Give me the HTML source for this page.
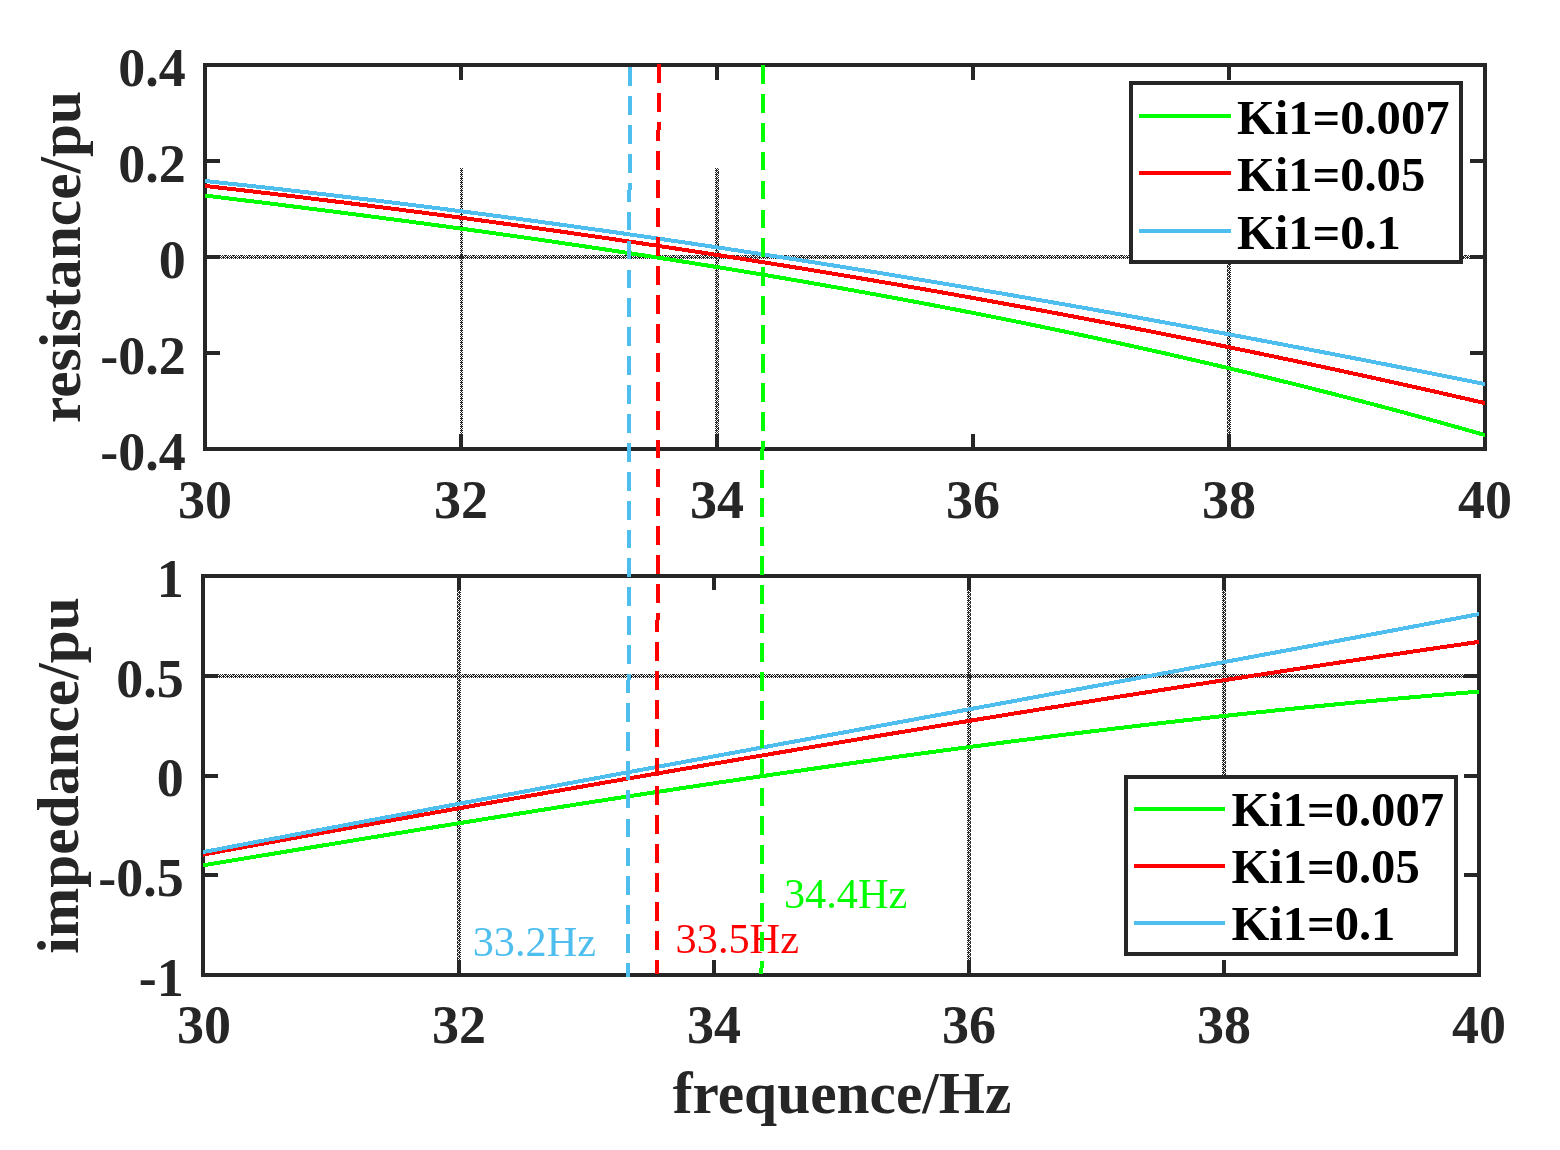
<!DOCTYPE html>
<html><head><meta charset="utf-8"><title>plot</title>
<style>html,body{margin:0;padding:0;background:#fff;width:1560px;height:1150px;overflow:hidden}svg{display:block}</style>
</head><body>
<svg width="1560" height="1150" viewBox="0 0 1560 1150">
<defs><pattern id="hg" x="0" y="0" width="8" height="4" patternUnits="userSpaceOnUse" fill="#262626"><rect x="0" y="0" width="1" height="1"/><rect x="1" y="0" width="1" height="1"/><rect x="2" y="0" width="1" height="1"/><rect x="4" y="0" width="1" height="1"/><rect x="6" y="0" width="1" height="1"/><rect x="1" y="1" width="1" height="1"/><rect x="3" y="1" width="1" height="1"/><rect x="5" y="1" width="1" height="1"/><rect x="7" y="1" width="1" height="1"/><rect x="0" y="2" width="1" height="1"/><rect x="2" y="2" width="1" height="1"/><rect x="3" y="2" width="1" height="1"/><rect x="4" y="2" width="1" height="1"/><rect x="6" y="2" width="1" height="1"/><rect x="7" y="2" width="1" height="1"/><rect x="1" y="3" width="1" height="1"/><rect x="3" y="3" width="1" height="1"/><rect x="5" y="3" width="1" height="1"/><rect x="7" y="3" width="1" height="1"/></pattern><pattern id="vc" x="0" y="0" width="3" height="4" patternUnits="userSpaceOnUse" fill="#262626"><rect x="0" y="0" width="3" height="1"/><rect x="1" y="1" width="1" height="1"/><rect x="0" y="2" width="1" height="1"/><rect x="2" y="2" width="1" height="1"/><rect x="1" y="3" width="1" height="1"/></pattern><pattern id="ve" x="0" y="0" width="1" height="8" patternUnits="userSpaceOnUse" fill="#262626"><rect x="0" y="1" width="1" height="1"/><rect x="0" y="3" width="1" height="1"/><rect x="0" y="4" width="1" height="1"/><rect x="0" y="5" width="1" height="1"/><rect x="0" y="7" width="1" height="1"/></pattern><pattern id="ve2" x="0" y="0" width="1" height="4" patternUnits="userSpaceOnUse" fill="#262626"><rect x="0" y="1" width="1" height="3"/></pattern></defs>
<rect x="0" y="0" width="1560" height="1150" fill="#fff"/>
<g fill="#262626" shape-rendering="crispEdges">
<g transform="translate(460 302)"><rect x="0" y="-134" width="3" height="281" fill="url(#vc)"/></g>
<g transform="translate(715 302)"><rect x="0" y="-134" width="3" height="281" fill="url(#vc)"/></g>
<g transform="translate(718 304)"><rect x="0" y="-136" width="1" height="281" fill="url(#ve)"/></g>
<g transform="translate(1228 308)"><rect x="0" y="-44" width="3" height="185" fill="url(#vc)"/></g>
<g transform="translate(1227 308)"><rect x="0" y="-44" width="1" height="185" fill="url(#ve2)"/></g>
<g transform="translate(0 255)"><rect x="207" y="0" width="1276" height="4" fill="url(#hg)"/></g>
<g transform="translate(458 608)"><rect x="0" y="-30" width="3" height="395" fill="url(#vc)"/></g>
<g transform="translate(457 608)"><rect x="0" y="-30" width="1" height="395" fill="url(#ve2)"/></g>
<g transform="translate(967 608)"><rect x="0" y="-30" width="3" height="395" fill="url(#vc)"/></g>
<g transform="translate(970 608)"><rect x="0" y="-30" width="1" height="395" fill="url(#ve2)"/></g>
<g transform="translate(1222 608)"><rect x="0" y="-30" width="3" height="197" fill="url(#vc)"/></g>
<g transform="translate(1225 608)"><rect x="0" y="-30" width="1" height="197" fill="url(#ve2)"/></g>
<g transform="translate(0 674)"><rect x="205" y="0" width="1272" height="4" fill="url(#hg)"/></g>
</g>
<path d="M461 449V434M461 65V80M717 449V434M717 65V80M973 449V434M973 65V80M1229 449V434M1229 65V80M205 161H220M1485 161H1470M205 257H220M1485 257H1470M205 353H220M1485 353H1470" stroke="#262626" stroke-width="4" fill="none" shape-rendering="crispEdges"/>
<rect x="205" y="65" width="1280" height="384" fill="none" stroke="#262626" stroke-width="4" shape-rendering="crispEdges"/>
<path d="M459 975V960M459 576V590M714 975V960M714 576V590M969 975V960M969 576V590M1224 975V960M1224 576V590M203 676H218M1479 676H1464M203 776H218M1479 776H1464M203 875H218M1479 875H1464" stroke="#262626" stroke-width="4" fill="none" shape-rendering="crispEdges"/>
<rect x="203" y="576" width="1276" height="399" fill="none" stroke="#262626" stroke-width="4" shape-rendering="crispEdges"/>
<path d="M205.0 195.55 L209.0 196.04 L213.0 196.52 L217.0 197.01 L221.0 197.50 L225.0 197.99 L229.0 198.48 L233.0 198.97 L237.0 199.46 L241.0 199.95 L245.0 200.44 L249.0 200.94 L253.0 201.43 L257.0 201.93 L261.0 202.43 L265.0 202.92 L269.0 203.42 L273.0 203.92 L277.0 204.42 L281.0 204.92 L285.0 205.43 L289.0 205.93 L293.0 206.43 L297.0 206.94 L301.0 207.45 L305.0 207.95 L309.0 208.46 L313.0 208.97 L317.0 209.48 L321.0 209.99 L325.0 210.51 L329.0 211.02 L333.0 211.54 L337.0 212.05 L341.0 212.57 L345.0 213.09 L349.0 213.60 L353.0 214.12 L357.0 214.65 L361.0 215.17 L365.0 215.69 L369.0 216.22 L373.0 216.74 L377.0 217.27 L381.0 217.80 L385.0 218.33 L389.0 218.86 L393.0 219.39 L397.0 219.92 L401.0 220.46 L405.0 220.99 L409.0 221.53 L413.0 222.06 L417.0 222.60 L421.0 223.14 L425.0 223.68 L429.0 224.23 L433.0 224.77 L437.0 225.32 L441.0 225.86 L445.0 226.41 L449.0 226.96 L453.0 227.51 L457.0 228.06 L461.0 228.61 L465.0 229.17 L469.0 229.72 L473.0 230.28 L477.0 230.84 L481.0 231.40 L485.0 231.96 L489.0 232.52 L493.0 233.08 L497.0 233.65 L501.0 234.21 L505.0 234.78 L509.0 235.35 L513.0 235.92 L517.0 236.49 L521.0 237.07 L525.0 237.64 L529.0 238.22 L533.0 238.79 L537.0 239.37 L541.0 239.95 L545.0 240.54 L549.0 241.12 L553.0 241.70 L557.0 242.29 L561.0 242.88 L565.0 243.47 L569.0 244.06 L573.0 244.65 L577.0 245.25 L581.0 245.84 L585.0 246.44 L589.0 247.04 L593.0 247.64 L597.0 248.24 L601.0 248.84 L605.0 249.45 L609.0 250.05 L613.0 250.66 L617.0 251.27 L621.0 251.88 L625.0 252.50 L629.0 253.11 L633.0 253.73 L637.0 254.35 L641.0 254.97 L645.0 255.59 L649.0 256.21 L653.0 256.84 L657.0 257.46 L661.0 258.09 L665.0 258.72 L669.0 259.35 L673.0 259.98 L677.0 260.62 L681.0 261.26 L685.0 261.89 L689.0 262.53 L693.0 263.18 L697.0 263.82 L701.0 264.46 L705.0 265.11 L709.0 265.76 L713.0 266.41 L717.0 267.06 L721.0 267.72 L725.0 268.38 L729.0 269.03 L733.0 269.69 L737.0 270.35 L741.0 271.02 L745.0 271.68 L749.0 272.35 L753.0 273.02 L757.0 273.69 L761.0 274.36 L765.0 275.04 L769.0 275.72 L773.0 276.39 L777.0 277.08 L781.0 277.76 L785.0 278.44 L789.0 279.13 L793.0 279.82 L797.0 280.51 L801.0 281.20 L805.0 281.89 L809.0 282.59 L813.0 283.29 L817.0 283.99 L821.0 284.69 L825.0 285.40 L829.0 286.10 L833.0 286.81 L837.0 287.52 L841.0 288.23 L845.0 288.95 L849.0 289.66 L853.0 290.38 L857.0 291.10 L861.0 291.83 L865.0 292.55 L869.0 293.28 L873.0 294.01 L877.0 294.74 L881.0 295.47 L885.0 296.21 L889.0 296.94 L893.0 297.68 L897.0 298.42 L901.0 299.17 L905.0 299.91 L909.0 300.66 L913.0 301.41 L917.0 302.17 L921.0 302.92 L925.0 303.68 L929.0 304.44 L933.0 305.20 L937.0 305.96 L941.0 306.73 L945.0 307.50 L949.0 308.27 L953.0 309.04 L957.0 309.82 L961.0 310.59 L965.0 311.37 L969.0 312.15 L973.0 312.94 L977.0 313.72 L981.0 314.51 L985.0 315.30 L989.0 316.10 L993.0 316.89 L997.0 317.69 L1001.0 318.49 L1005.0 319.30 L1009.0 320.10 L1013.0 320.91 L1017.0 321.72 L1021.0 322.53 L1025.0 323.35 L1029.0 324.16 L1033.0 324.98 L1037.0 325.80 L1041.0 326.63 L1045.0 327.46 L1049.0 328.28 L1053.0 329.12 L1057.0 329.95 L1061.0 330.79 L1065.0 331.63 L1069.0 332.47 L1073.0 333.31 L1077.0 334.16 L1081.0 335.01 L1085.0 335.86 L1089.0 336.71 L1093.0 337.57 L1097.0 338.43 L1101.0 339.29 L1105.0 340.16 L1109.0 341.02 L1113.0 341.89 L1117.0 342.76 L1121.0 343.64 L1125.0 344.52 L1129.0 345.40 L1133.0 346.28 L1137.0 347.16 L1141.0 348.05 L1145.0 348.94 L1149.0 349.84 L1153.0 350.73 L1157.0 351.63 L1161.0 352.53 L1165.0 353.43 L1169.0 354.34 L1173.0 355.25 L1177.0 356.16 L1181.0 357.08 L1185.0 357.99 L1189.0 358.91 L1193.0 359.83 L1197.0 360.76 L1201.0 361.69 L1205.0 362.62 L1209.0 363.55 L1213.0 364.49 L1217.0 365.43 L1221.0 366.37 L1225.0 367.31 L1229.0 368.26 L1233.0 369.21 L1237.0 370.17 L1241.0 371.12 L1245.0 372.08 L1249.0 373.04 L1253.0 374.01 L1257.0 374.97 L1261.0 375.94 L1265.0 376.92 L1269.0 377.89 L1273.0 378.87 L1277.0 379.85 L1281.0 380.84 L1285.0 381.82 L1289.0 382.81 L1293.0 383.81 L1297.0 384.80 L1301.0 385.80 L1305.0 386.80 L1309.0 387.81 L1313.0 388.82 L1317.0 389.83 L1321.0 390.84 L1325.0 391.86 L1329.0 392.88 L1333.0 393.90 L1337.0 394.93 L1341.0 395.96 L1345.0 396.99 L1349.0 398.02 L1353.0 399.06 L1357.0 400.10 L1361.0 401.15 L1365.0 402.19 L1369.0 403.24 L1373.0 404.30 L1377.0 405.35 L1381.0 406.41 L1385.0 407.47 L1389.0 408.54 L1393.0 409.61 L1397.0 410.68 L1401.0 411.76 L1405.0 412.83 L1409.0 413.91 L1413.0 415.00 L1417.0 416.09 L1421.0 417.18 L1425.0 418.27 L1429.0 419.37 L1433.0 420.47 L1437.0 421.57 L1441.0 422.68 L1445.0 423.79 L1449.0 424.90 L1453.0 426.02 L1457.0 427.14 L1461.0 428.26 L1465.0 429.39 L1469.0 430.51 L1473.0 431.65 L1477.0 432.78 L1481.0 433.92 L1485.0 435.06" fill="none" stroke="#00FF00" stroke-width="4" stroke-linejoin="round" shape-rendering="crispEdges"/>
<path d="M205.0 185.96 L209.0 186.42 L213.0 186.88 L217.0 187.33 L221.0 187.79 L225.0 188.26 L229.0 188.72 L233.0 189.18 L237.0 189.65 L241.0 190.11 L245.0 190.58 L249.0 191.05 L253.0 191.52 L257.0 191.99 L261.0 192.47 L265.0 192.94 L269.0 193.41 L273.0 193.89 L277.0 194.37 L281.0 194.85 L285.0 195.33 L289.0 195.81 L293.0 196.29 L297.0 196.78 L301.0 197.26 L305.0 197.75 L309.0 198.24 L313.0 198.72 L317.0 199.22 L321.0 199.71 L325.0 200.20 L329.0 200.69 L333.0 201.19 L337.0 201.69 L341.0 202.18 L345.0 202.68 L349.0 203.18 L353.0 203.69 L357.0 204.19 L361.0 204.69 L365.0 205.20 L369.0 205.71 L373.0 206.21 L377.0 206.72 L381.0 207.24 L385.0 207.75 L389.0 208.26 L393.0 208.78 L397.0 209.29 L401.0 209.81 L405.0 210.33 L409.0 210.85 L413.0 211.37 L417.0 211.89 L421.0 212.42 L425.0 212.94 L429.0 213.47 L433.0 214.00 L437.0 214.52 L441.0 215.06 L445.0 215.59 L449.0 216.12 L453.0 216.65 L457.0 217.19 L461.0 217.73 L465.0 218.27 L469.0 218.81 L473.0 219.35 L477.0 219.89 L481.0 220.43 L485.0 220.98 L489.0 221.52 L493.0 222.07 L497.0 222.62 L501.0 223.17 L505.0 223.72 L509.0 224.28 L513.0 224.83 L517.0 225.39 L521.0 225.94 L525.0 226.50 L529.0 227.06 L533.0 227.62 L537.0 228.19 L541.0 228.75 L545.0 229.32 L549.0 229.88 L553.0 230.45 L557.0 231.02 L561.0 231.59 L565.0 232.16 L569.0 232.74 L573.0 233.31 L577.0 233.89 L581.0 234.47 L585.0 235.04 L589.0 235.62 L593.0 236.21 L597.0 236.79 L601.0 237.37 L605.0 237.96 L609.0 238.55 L613.0 239.14 L617.0 239.73 L621.0 240.32 L625.0 240.91 L629.0 241.50 L633.0 242.10 L637.0 242.70 L641.0 243.29 L645.0 243.89 L649.0 244.50 L653.0 245.10 L657.0 245.70 L661.0 246.31 L665.0 246.91 L669.0 247.52 L673.0 248.13 L677.0 248.74 L681.0 249.36 L685.0 249.97 L689.0 250.58 L693.0 251.20 L697.0 251.82 L701.0 252.44 L705.0 253.06 L709.0 253.68 L713.0 254.30 L717.0 254.93 L721.0 255.56 L725.0 256.18 L729.0 256.81 L733.0 257.44 L737.0 258.08 L741.0 258.71 L745.0 259.35 L749.0 259.98 L753.0 260.62 L757.0 261.26 L761.0 261.90 L765.0 262.54 L769.0 263.19 L773.0 263.83 L777.0 264.48 L781.0 265.13 L785.0 265.78 L789.0 266.43 L793.0 267.08 L797.0 267.73 L801.0 268.39 L805.0 269.05 L809.0 269.70 L813.0 270.36 L817.0 271.02 L821.0 271.69 L825.0 272.35 L829.0 273.02 L833.0 273.68 L837.0 274.35 L841.0 275.02 L845.0 275.69 L849.0 276.37 L853.0 277.04 L857.0 277.72 L861.0 278.39 L865.0 279.07 L869.0 279.75 L873.0 280.43 L877.0 281.12 L881.0 281.80 L885.0 282.49 L889.0 283.18 L893.0 283.87 L897.0 284.56 L901.0 285.25 L905.0 285.94 L909.0 286.64 L913.0 287.33 L917.0 288.03 L921.0 288.73 L925.0 289.43 L929.0 290.14 L933.0 290.84 L937.0 291.55 L941.0 292.25 L945.0 292.96 L949.0 293.67 L953.0 294.38 L957.0 295.10 L961.0 295.81 L965.0 296.53 L969.0 297.25 L973.0 297.96 L977.0 298.69 L981.0 299.41 L985.0 300.13 L989.0 300.86 L993.0 301.58 L997.0 302.31 L1001.0 303.04 L1005.0 303.77 L1009.0 304.51 L1013.0 305.24 L1017.0 305.98 L1021.0 306.71 L1025.0 307.45 L1029.0 308.19 L1033.0 308.94 L1037.0 309.68 L1041.0 310.43 L1045.0 311.17 L1049.0 311.92 L1053.0 312.67 L1057.0 313.42 L1061.0 314.18 L1065.0 314.93 L1069.0 315.69 L1073.0 316.44 L1077.0 317.20 L1081.0 317.96 L1085.0 318.73 L1089.0 319.49 L1093.0 320.26 L1097.0 321.02 L1101.0 321.79 L1105.0 322.56 L1109.0 323.33 L1113.0 324.11 L1117.0 324.88 L1121.0 325.66 L1125.0 326.44 L1129.0 327.22 L1133.0 328.00 L1137.0 328.78 L1141.0 329.57 L1145.0 330.35 L1149.0 331.14 L1153.0 331.93 L1157.0 332.72 L1161.0 333.51 L1165.0 334.31 L1169.0 335.10 L1173.0 335.90 L1177.0 336.70 L1181.0 337.50 L1185.0 338.30 L1189.0 339.10 L1193.0 339.91 L1197.0 340.72 L1201.0 341.52 L1205.0 342.33 L1209.0 343.15 L1213.0 343.96 L1217.0 344.77 L1221.0 345.59 L1225.0 346.41 L1229.0 347.23 L1233.0 348.05 L1237.0 348.87 L1241.0 349.70 L1245.0 350.52 L1249.0 351.35 L1253.0 352.18 L1257.0 353.01 L1261.0 353.84 L1265.0 354.68 L1269.0 355.51 L1273.0 356.35 L1277.0 357.19 L1281.0 358.03 L1285.0 358.87 L1289.0 359.72 L1293.0 360.56 L1297.0 361.41 L1301.0 362.26 L1305.0 363.11 L1309.0 363.96 L1313.0 364.82 L1317.0 365.67 L1321.0 366.53 L1325.0 367.39 L1329.0 368.25 L1333.0 369.11 L1337.0 369.97 L1341.0 370.84 L1345.0 371.71 L1349.0 372.58 L1353.0 373.45 L1357.0 374.32 L1361.0 375.19 L1365.0 376.07 L1369.0 376.94 L1373.0 377.82 L1377.0 378.70 L1381.0 379.59 L1385.0 380.47 L1389.0 381.36 L1393.0 382.24 L1397.0 383.13 L1401.0 384.02 L1405.0 384.91 L1409.0 385.81 L1413.0 386.70 L1417.0 387.60 L1421.0 388.50 L1425.0 389.40 L1429.0 390.30 L1433.0 391.21 L1437.0 392.11 L1441.0 393.02 L1445.0 393.93 L1449.0 394.84 L1453.0 395.75 L1457.0 396.67 L1461.0 397.58 L1465.0 398.50 L1469.0 399.42 L1473.0 400.34 L1477.0 401.26 L1481.0 402.19 L1485.0 403.11" fill="none" stroke="#FF0000" stroke-width="4" stroke-linejoin="round" shape-rendering="crispEdges"/>
<path d="M205.0 181.00 L209.0 181.43 L213.0 181.85 L217.0 182.28 L221.0 182.71 L225.0 183.14 L229.0 183.58 L233.0 184.01 L237.0 184.45 L241.0 184.88 L245.0 185.32 L249.0 185.76 L253.0 186.21 L257.0 186.65 L261.0 187.09 L265.0 187.54 L269.0 187.99 L273.0 188.44 L277.0 188.89 L281.0 189.34 L285.0 189.80 L289.0 190.25 L293.0 190.71 L297.0 191.17 L301.0 191.63 L305.0 192.09 L309.0 192.56 L313.0 193.02 L317.0 193.49 L321.0 193.96 L325.0 194.43 L329.0 194.90 L333.0 195.37 L337.0 195.84 L341.0 196.32 L345.0 196.80 L349.0 197.27 L353.0 197.75 L357.0 198.24 L361.0 198.72 L365.0 199.20 L369.0 199.69 L373.0 200.18 L377.0 200.66 L381.0 201.16 L385.0 201.65 L389.0 202.14 L393.0 202.63 L397.0 203.13 L401.0 203.63 L405.0 204.13 L409.0 204.63 L413.0 205.13 L417.0 205.63 L421.0 206.14 L425.0 206.64 L429.0 207.15 L433.0 207.66 L437.0 208.17 L441.0 208.68 L445.0 209.20 L449.0 209.71 L453.0 210.23 L457.0 210.75 L461.0 211.27 L465.0 211.79 L469.0 212.31 L473.0 212.83 L477.0 213.36 L481.0 213.88 L485.0 214.41 L489.0 214.94 L493.0 215.47 L497.0 216.00 L501.0 216.53 L505.0 217.07 L509.0 217.61 L513.0 218.14 L517.0 218.68 L521.0 219.22 L525.0 219.76 L529.0 220.31 L533.0 220.85 L537.0 221.40 L541.0 221.94 L545.0 222.49 L549.0 223.04 L553.0 223.59 L557.0 224.14 L561.0 224.70 L565.0 225.25 L569.0 225.81 L573.0 226.37 L577.0 226.93 L581.0 227.49 L585.0 228.05 L589.0 228.61 L593.0 229.18 L597.0 229.74 L601.0 230.31 L605.0 230.88 L609.0 231.45 L613.0 232.02 L617.0 232.59 L621.0 233.17 L625.0 233.74 L629.0 234.32 L633.0 234.90 L637.0 235.48 L641.0 236.06 L645.0 236.64 L649.0 237.22 L653.0 237.81 L657.0 238.39 L661.0 238.98 L665.0 239.57 L669.0 240.16 L673.0 240.75 L677.0 241.34 L681.0 241.94 L685.0 242.53 L689.0 243.13 L693.0 243.72 L697.0 244.32 L701.0 244.92 L705.0 245.52 L709.0 246.13 L713.0 246.73 L717.0 247.33 L721.0 247.94 L725.0 248.55 L729.0 249.16 L733.0 249.77 L737.0 250.38 L741.0 250.99 L745.0 251.61 L749.0 252.22 L753.0 252.84 L757.0 253.45 L761.0 254.07 L765.0 254.69 L769.0 255.31 L773.0 255.94 L777.0 256.56 L781.0 257.19 L785.0 257.81 L789.0 258.44 L793.0 259.07 L797.0 259.70 L801.0 260.33 L805.0 260.96 L809.0 261.59 L813.0 262.23 L817.0 262.87 L821.0 263.50 L825.0 264.14 L829.0 264.78 L833.0 265.42 L837.0 266.06 L841.0 266.71 L845.0 267.35 L849.0 268.00 L853.0 268.64 L857.0 269.29 L861.0 269.94 L865.0 270.59 L869.0 271.24 L873.0 271.89 L877.0 272.55 L881.0 273.20 L885.0 273.86 L889.0 274.51 L893.0 275.17 L897.0 275.83 L901.0 276.49 L905.0 277.16 L909.0 277.82 L913.0 278.48 L917.0 279.15 L921.0 279.81 L925.0 280.48 L929.0 281.15 L933.0 281.82 L937.0 282.49 L941.0 283.16 L945.0 283.84 L949.0 284.51 L953.0 285.19 L957.0 285.86 L961.0 286.54 L965.0 287.22 L969.0 287.90 L973.0 288.58 L977.0 289.26 L981.0 289.95 L985.0 290.63 L989.0 291.32 L993.0 292.00 L997.0 292.69 L1001.0 293.38 L1005.0 294.07 L1009.0 294.76 L1013.0 295.45 L1017.0 296.15 L1021.0 296.84 L1025.0 297.53 L1029.0 298.23 L1033.0 298.93 L1037.0 299.63 L1041.0 300.33 L1045.0 301.03 L1049.0 301.73 L1053.0 302.43 L1057.0 303.14 L1061.0 303.84 L1065.0 304.55 L1069.0 305.25 L1073.0 305.96 L1077.0 306.67 L1081.0 307.38 L1085.0 308.09 L1089.0 308.81 L1093.0 309.52 L1097.0 310.23 L1101.0 310.95 L1105.0 311.66 L1109.0 312.38 L1113.0 313.10 L1117.0 313.82 L1121.0 314.54 L1125.0 315.26 L1129.0 315.98 L1133.0 316.71 L1137.0 317.43 L1141.0 318.16 L1145.0 318.89 L1149.0 319.61 L1153.0 320.34 L1157.0 321.07 L1161.0 321.80 L1165.0 322.53 L1169.0 323.27 L1173.0 324.00 L1177.0 324.73 L1181.0 325.47 L1185.0 326.21 L1189.0 326.94 L1193.0 327.68 L1197.0 328.42 L1201.0 329.16 L1205.0 329.90 L1209.0 330.65 L1213.0 331.39 L1217.0 332.13 L1221.0 332.88 L1225.0 333.63 L1229.0 334.37 L1233.0 335.12 L1237.0 335.87 L1241.0 336.62 L1245.0 337.37 L1249.0 338.12 L1253.0 338.88 L1257.0 339.63 L1261.0 340.39 L1265.0 341.14 L1269.0 341.90 L1273.0 342.66 L1277.0 343.42 L1281.0 344.17 L1285.0 344.94 L1289.0 345.70 L1293.0 346.46 L1297.0 347.22 L1301.0 347.99 L1305.0 348.75 L1309.0 349.52 L1313.0 350.28 L1317.0 351.05 L1321.0 351.82 L1325.0 352.59 L1329.0 353.36 L1333.0 354.13 L1337.0 354.90 L1341.0 355.68 L1345.0 356.45 L1349.0 357.23 L1353.0 358.00 L1357.0 358.78 L1361.0 359.56 L1365.0 360.33 L1369.0 361.11 L1373.0 361.89 L1377.0 362.68 L1381.0 363.46 L1385.0 364.24 L1389.0 365.02 L1393.0 365.81 L1397.0 366.59 L1401.0 367.38 L1405.0 368.17 L1409.0 368.96 L1413.0 369.74 L1417.0 370.53 L1421.0 371.32 L1425.0 372.12 L1429.0 372.91 L1433.0 373.70 L1437.0 374.49 L1441.0 375.29 L1445.0 376.08 L1449.0 376.88 L1453.0 377.68 L1457.0 378.48 L1461.0 379.27 L1465.0 380.07 L1469.0 380.87 L1473.0 381.68 L1477.0 382.48 L1481.0 383.28 L1485.0 384.08" fill="none" stroke="#4DBEEE" stroke-width="4" stroke-linejoin="round" shape-rendering="crispEdges"/>
<path d="M203.0 865.40 L207.0 864.73 L211.0 864.07 L215.0 863.40 L219.0 862.73 L223.0 862.06 L227.0 861.40 L231.0 860.73 L235.0 860.06 L239.0 859.40 L243.0 858.73 L247.0 858.06 L251.0 857.40 L255.0 856.73 L259.0 856.07 L263.0 855.40 L267.0 854.74 L271.0 854.07 L275.0 853.41 L279.0 852.74 L283.0 852.08 L287.0 851.41 L291.0 850.75 L295.0 850.09 L299.0 849.42 L303.0 848.76 L307.0 848.10 L311.0 847.44 L315.0 846.77 L319.0 846.11 L323.0 845.45 L327.0 844.79 L331.0 844.13 L335.0 843.47 L339.0 842.81 L343.0 842.15 L347.0 841.49 L351.0 840.83 L355.0 840.17 L359.0 839.52 L363.0 838.86 L367.0 838.20 L371.0 837.55 L375.0 836.89 L379.0 836.23 L383.0 835.58 L387.0 834.92 L391.0 834.27 L395.0 833.61 L399.0 832.96 L403.0 832.31 L407.0 831.65 L411.0 831.00 L415.0 830.35 L419.0 829.70 L423.0 829.04 L427.0 828.39 L431.0 827.74 L435.0 827.09 L439.0 826.44 L443.0 825.80 L447.0 825.15 L451.0 824.50 L455.0 823.85 L459.0 823.21 L463.0 822.56 L467.0 821.91 L471.0 821.27 L475.0 820.62 L479.0 819.98 L483.0 819.34 L487.0 818.69 L491.0 818.05 L495.0 817.41 L499.0 816.77 L503.0 816.13 L507.0 815.49 L511.0 814.85 L515.0 814.21 L519.0 813.57 L523.0 812.93 L527.0 812.29 L531.0 811.66 L535.0 811.02 L539.0 810.39 L543.0 809.75 L547.0 809.12 L551.0 808.49 L555.0 807.85 L559.0 807.22 L563.0 806.59 L567.0 805.96 L571.0 805.33 L575.0 804.70 L579.0 804.07 L583.0 803.44 L587.0 802.82 L591.0 802.19 L595.0 801.57 L599.0 800.94 L603.0 800.32 L607.0 799.69 L611.0 799.07 L615.0 798.45 L619.0 797.83 L623.0 797.21 L627.0 796.59 L631.0 795.97 L635.0 795.35 L639.0 794.73 L643.0 794.12 L647.0 793.50 L651.0 792.88 L655.0 792.27 L659.0 791.66 L663.0 791.04 L667.0 790.43 L671.0 789.82 L675.0 789.21 L679.0 788.60 L683.0 787.99 L687.0 787.39 L691.0 786.78 L695.0 786.17 L699.0 785.57 L703.0 784.97 L707.0 784.36 L711.0 783.76 L715.0 783.16 L719.0 782.56 L723.0 781.96 L727.0 781.36 L731.0 780.76 L735.0 780.17 L739.0 779.57 L743.0 778.97 L747.0 778.38 L751.0 777.79 L755.0 777.20 L759.0 776.60 L763.0 776.01 L767.0 775.43 L771.0 774.84 L775.0 774.25 L779.0 773.66 L783.0 773.08 L787.0 772.49 L791.0 771.91 L795.0 771.33 L799.0 770.75 L803.0 770.17 L807.0 769.59 L811.0 769.01 L815.0 768.43 L819.0 767.86 L823.0 767.28 L827.0 766.71 L831.0 766.13 L835.0 765.56 L839.0 764.99 L843.0 764.42 L847.0 763.85 L851.0 763.29 L855.0 762.72 L859.0 762.16 L863.0 761.59 L867.0 761.03 L871.0 760.47 L875.0 759.91 L879.0 759.35 L883.0 758.79 L887.0 758.23 L891.0 757.67 L895.0 757.12 L899.0 756.56 L903.0 756.01 L907.0 755.46 L911.0 754.91 L915.0 754.36 L919.0 753.81 L923.0 753.27 L927.0 752.72 L931.0 752.18 L935.0 751.63 L939.0 751.09 L943.0 750.55 L947.0 750.01 L951.0 749.47 L955.0 748.94 L959.0 748.40 L963.0 747.87 L967.0 747.33 L971.0 746.80 L975.0 746.27 L979.0 745.74 L983.0 745.21 L987.0 744.69 L991.0 744.16 L995.0 743.64 L999.0 743.11 L1003.0 742.59 L1007.0 742.07 L1011.0 741.55 L1015.0 741.03 L1019.0 740.52 L1023.0 740.00 L1027.0 739.49 L1031.0 738.98 L1035.0 738.47 L1039.0 737.96 L1043.0 737.45 L1047.0 736.94 L1051.0 736.44 L1055.0 735.93 L1059.0 735.43 L1063.0 734.93 L1067.0 734.43 L1071.0 733.93 L1075.0 733.44 L1079.0 732.94 L1083.0 732.45 L1087.0 731.95 L1091.0 731.46 L1095.0 730.97 L1099.0 730.48 L1103.0 730.00 L1107.0 729.51 L1111.0 729.03 L1115.0 728.55 L1119.0 728.07 L1123.0 727.59 L1127.0 727.11 L1131.0 726.63 L1135.0 726.16 L1139.0 725.68 L1143.0 725.21 L1147.0 724.74 L1151.0 724.27 L1155.0 723.81 L1159.0 723.34 L1163.0 722.88 L1167.0 722.41 L1171.0 721.95 L1175.0 721.49 L1179.0 721.04 L1183.0 720.58 L1187.0 720.13 L1191.0 719.67 L1195.0 719.22 L1199.0 718.77 L1203.0 718.32 L1207.0 717.88 L1211.0 717.43 L1215.0 716.99 L1219.0 716.55 L1223.0 716.11 L1227.0 715.67 L1231.0 715.23 L1235.0 714.80 L1239.0 714.36 L1243.0 713.93 L1247.0 713.50 L1251.0 713.07 L1255.0 712.64 L1259.0 712.22 L1263.0 711.80 L1267.0 711.37 L1271.0 710.95 L1275.0 710.54 L1279.0 710.12 L1283.0 709.70 L1287.0 709.29 L1291.0 708.88 L1295.0 708.47 L1299.0 708.06 L1303.0 707.66 L1307.0 707.25 L1311.0 706.85 L1315.0 706.45 L1319.0 706.05 L1323.0 705.65 L1327.0 705.26 L1331.0 704.86 L1335.0 704.47 L1339.0 704.08 L1343.0 703.69 L1347.0 703.31 L1351.0 702.92 L1355.0 702.54 L1359.0 702.16 L1363.0 701.78 L1367.0 701.40 L1371.0 701.03 L1375.0 700.65 L1379.0 700.28 L1383.0 699.91 L1387.0 699.55 L1391.0 699.18 L1395.0 698.82 L1399.0 698.45 L1403.0 698.09 L1407.0 697.73 L1411.0 697.38 L1415.0 697.02 L1419.0 696.67 L1423.0 696.32 L1427.0 695.97 L1431.0 695.62 L1435.0 695.28 L1439.0 694.94 L1443.0 694.60 L1447.0 694.26 L1451.0 693.92 L1455.0 693.58 L1459.0 693.25 L1463.0 692.92 L1467.0 692.59 L1471.0 692.26 L1475.0 691.94 L1479.0 691.62" fill="none" stroke="#00FF00" stroke-width="4" stroke-linejoin="round" shape-rendering="crispEdges"/>
<path d="M203.0 854.60 L207.0 853.87 L211.0 853.13 L215.0 852.40 L219.0 851.67 L223.0 850.93 L227.0 850.20 L231.0 849.47 L235.0 848.74 L239.0 848.00 L243.0 847.27 L247.0 846.54 L251.0 845.81 L255.0 845.08 L259.0 844.35 L263.0 843.62 L267.0 842.89 L271.0 842.16 L275.0 841.43 L279.0 840.70 L283.0 839.97 L287.0 839.25 L291.0 838.52 L295.0 837.79 L299.0 837.07 L303.0 836.34 L307.0 835.61 L311.0 834.89 L315.0 834.16 L319.0 833.44 L323.0 832.71 L327.0 831.99 L331.0 831.26 L335.0 830.54 L339.0 829.82 L343.0 829.09 L347.0 828.37 L351.0 827.65 L355.0 826.92 L359.0 826.20 L363.0 825.48 L367.0 824.76 L371.0 824.04 L375.0 823.32 L379.0 822.60 L383.0 821.88 L387.0 821.16 L391.0 820.44 L395.0 819.72 L399.0 819.01 L403.0 818.29 L407.0 817.57 L411.0 816.85 L415.0 816.14 L419.0 815.42 L423.0 814.71 L427.0 813.99 L431.0 813.27 L435.0 812.56 L439.0 811.85 L443.0 811.13 L447.0 810.42 L451.0 809.70 L455.0 808.99 L459.0 808.28 L463.0 807.57 L467.0 806.86 L471.0 806.14 L475.0 805.43 L479.0 804.72 L483.0 804.01 L487.0 803.30 L491.0 802.59 L495.0 801.88 L499.0 801.18 L503.0 800.47 L507.0 799.76 L511.0 799.05 L515.0 798.34 L519.0 797.64 L523.0 796.93 L527.0 796.23 L531.0 795.52 L535.0 794.81 L539.0 794.11 L543.0 793.41 L547.0 792.70 L551.0 792.00 L555.0 791.30 L559.0 790.59 L563.0 789.89 L567.0 789.19 L571.0 788.49 L575.0 787.79 L579.0 787.09 L583.0 786.39 L587.0 785.69 L591.0 784.99 L595.0 784.29 L599.0 783.59 L603.0 782.89 L607.0 782.19 L611.0 781.50 L615.0 780.80 L619.0 780.10 L623.0 779.41 L627.0 778.71 L631.0 778.01 L635.0 777.32 L639.0 776.63 L643.0 775.93 L647.0 775.24 L651.0 774.55 L655.0 773.85 L659.0 773.16 L663.0 772.47 L667.0 771.78 L671.0 771.09 L675.0 770.40 L679.0 769.71 L683.0 769.02 L687.0 768.33 L691.0 767.64 L695.0 766.95 L699.0 766.26 L703.0 765.57 L707.0 764.89 L711.0 764.20 L715.0 763.51 L719.0 762.83 L723.0 762.14 L727.0 761.46 L731.0 760.78 L735.0 760.09 L739.0 759.41 L743.0 758.72 L747.0 758.04 L751.0 757.36 L755.0 756.68 L759.0 756.00 L763.0 755.32 L767.0 754.64 L771.0 753.96 L775.0 753.28 L779.0 752.60 L783.0 751.92 L787.0 751.24 L791.0 750.57 L795.0 749.89 L799.0 749.21 L803.0 748.54 L807.0 747.86 L811.0 747.19 L815.0 746.51 L819.0 745.84 L823.0 745.16 L827.0 744.49 L831.0 743.82 L835.0 743.14 L839.0 742.47 L843.0 741.80 L847.0 741.13 L851.0 740.46 L855.0 739.79 L859.0 739.12 L863.0 738.45 L867.0 737.78 L871.0 737.12 L875.0 736.45 L879.0 735.78 L883.0 735.11 L887.0 734.45 L891.0 733.78 L895.0 733.12 L899.0 732.45 L903.0 731.79 L907.0 731.13 L911.0 730.46 L915.0 729.80 L919.0 729.14 L923.0 728.48 L927.0 727.82 L931.0 727.16 L935.0 726.50 L939.0 725.84 L943.0 725.18 L947.0 724.52 L951.0 723.86 L955.0 723.20 L959.0 722.55 L963.0 721.89 L967.0 721.23 L971.0 720.58 L975.0 719.92 L979.0 719.27 L983.0 718.61 L987.0 717.96 L991.0 717.31 L995.0 716.66 L999.0 716.00 L1003.0 715.35 L1007.0 714.70 L1011.0 714.05 L1015.0 713.40 L1019.0 712.75 L1023.0 712.10 L1027.0 711.46 L1031.0 710.81 L1035.0 710.16 L1039.0 709.51 L1043.0 708.87 L1047.0 708.22 L1051.0 707.58 L1055.0 706.93 L1059.0 706.29 L1063.0 705.64 L1067.0 705.00 L1071.0 704.36 L1075.0 703.72 L1079.0 703.08 L1083.0 702.44 L1087.0 701.80 L1091.0 701.16 L1095.0 700.52 L1099.0 699.88 L1103.0 699.24 L1107.0 698.60 L1111.0 697.97 L1115.0 697.33 L1119.0 696.69 L1123.0 696.06 L1127.0 695.42 L1131.0 694.79 L1135.0 694.16 L1139.0 693.52 L1143.0 692.89 L1147.0 692.26 L1151.0 691.63 L1155.0 691.00 L1159.0 690.36 L1163.0 689.74 L1167.0 689.11 L1171.0 688.48 L1175.0 687.85 L1179.0 687.22 L1183.0 686.59 L1187.0 685.97 L1191.0 685.34 L1195.0 684.72 L1199.0 684.09 L1203.0 683.47 L1207.0 682.84 L1211.0 682.22 L1215.0 681.60 L1219.0 680.98 L1223.0 680.36 L1227.0 679.74 L1231.0 679.12 L1235.0 678.50 L1239.0 677.88 L1243.0 677.26 L1247.0 676.64 L1251.0 676.02 L1255.0 675.41 L1259.0 674.79 L1263.0 674.18 L1267.0 673.56 L1271.0 672.95 L1275.0 672.33 L1279.0 671.72 L1283.0 671.11 L1287.0 670.49 L1291.0 669.88 L1295.0 669.27 L1299.0 668.66 L1303.0 668.05 L1307.0 667.44 L1311.0 666.84 L1315.0 666.23 L1319.0 665.62 L1323.0 665.01 L1327.0 664.41 L1331.0 663.80 L1335.0 663.20 L1339.0 662.59 L1343.0 661.99 L1347.0 661.39 L1351.0 660.79 L1355.0 660.18 L1359.0 659.58 L1363.0 658.98 L1367.0 658.38 L1371.0 657.78 L1375.0 657.18 L1379.0 656.59 L1383.0 655.99 L1387.0 655.39 L1391.0 654.80 L1395.0 654.20 L1399.0 653.61 L1403.0 653.01 L1407.0 652.42 L1411.0 651.82 L1415.0 651.23 L1419.0 650.64 L1423.0 650.05 L1427.0 649.46 L1431.0 648.87 L1435.0 648.28 L1439.0 647.69 L1443.0 647.10 L1447.0 646.51 L1451.0 645.93 L1455.0 645.34 L1459.0 644.76 L1463.0 644.17 L1467.0 643.59 L1471.0 643.00 L1475.0 642.42 L1479.0 641.84" fill="none" stroke="#FF0000" stroke-width="4" stroke-linejoin="round" shape-rendering="crispEdges"/>
<path d="M203.0 852.14 L207.0 851.37 L211.0 850.60 L215.0 849.84 L219.0 849.07 L223.0 848.31 L227.0 847.55 L231.0 846.78 L235.0 846.02 L239.0 845.26 L243.0 844.49 L247.0 843.73 L251.0 842.97 L255.0 842.21 L259.0 841.44 L263.0 840.68 L267.0 839.92 L271.0 839.16 L275.0 838.40 L279.0 837.64 L283.0 836.88 L287.0 836.12 L291.0 835.36 L295.0 834.60 L299.0 833.85 L303.0 833.09 L307.0 832.33 L311.0 831.57 L315.0 830.82 L319.0 830.06 L323.0 829.30 L327.0 828.55 L331.0 827.79 L335.0 827.03 L339.0 826.28 L343.0 825.52 L347.0 824.77 L351.0 824.01 L355.0 823.26 L359.0 822.50 L363.0 821.75 L367.0 821.00 L371.0 820.24 L375.0 819.49 L379.0 818.74 L383.0 817.98 L387.0 817.23 L391.0 816.48 L395.0 815.73 L399.0 814.97 L403.0 814.22 L407.0 813.47 L411.0 812.72 L415.0 811.97 L419.0 811.22 L423.0 810.47 L427.0 809.72 L431.0 808.97 L435.0 808.22 L439.0 807.47 L443.0 806.72 L447.0 805.97 L451.0 805.22 L455.0 804.47 L459.0 803.73 L463.0 802.98 L467.0 802.23 L471.0 801.48 L475.0 800.74 L479.0 799.99 L483.0 799.24 L487.0 798.49 L491.0 797.75 L495.0 797.00 L499.0 796.25 L503.0 795.51 L507.0 794.76 L511.0 794.02 L515.0 793.27 L519.0 792.53 L523.0 791.78 L527.0 791.04 L531.0 790.29 L535.0 789.55 L539.0 788.80 L543.0 788.06 L547.0 787.31 L551.0 786.57 L555.0 785.83 L559.0 785.08 L563.0 784.34 L567.0 783.59 L571.0 782.85 L575.0 782.11 L579.0 781.37 L583.0 780.62 L587.0 779.88 L591.0 779.14 L595.0 778.40 L599.0 777.65 L603.0 776.91 L607.0 776.17 L611.0 775.43 L615.0 774.69 L619.0 773.94 L623.0 773.20 L627.0 772.46 L631.0 771.72 L635.0 770.98 L639.0 770.24 L643.0 769.50 L647.0 768.76 L651.0 768.02 L655.0 767.28 L659.0 766.54 L663.0 765.80 L667.0 765.06 L671.0 764.32 L675.0 763.58 L679.0 762.84 L683.0 762.10 L687.0 761.36 L691.0 760.62 L695.0 759.88 L699.0 759.14 L703.0 758.40 L707.0 757.66 L711.0 756.92 L715.0 756.18 L719.0 755.44 L723.0 754.71 L727.0 753.97 L731.0 753.23 L735.0 752.49 L739.0 751.75 L743.0 751.01 L747.0 750.27 L751.0 749.54 L755.0 748.80 L759.0 748.06 L763.0 747.32 L767.0 746.58 L771.0 745.85 L775.0 745.11 L779.0 744.37 L783.0 743.63 L787.0 742.89 L791.0 742.16 L795.0 741.42 L799.0 740.68 L803.0 739.94 L807.0 739.21 L811.0 738.47 L815.0 737.73 L819.0 736.99 L823.0 736.26 L827.0 735.52 L831.0 734.78 L835.0 734.04 L839.0 733.31 L843.0 732.57 L847.0 731.83 L851.0 731.09 L855.0 730.36 L859.0 729.62 L863.0 728.88 L867.0 728.14 L871.0 727.41 L875.0 726.67 L879.0 725.93 L883.0 725.19 L887.0 724.46 L891.0 723.72 L895.0 722.98 L899.0 722.24 L903.0 721.51 L907.0 720.77 L911.0 720.03 L915.0 719.29 L919.0 718.56 L923.0 717.82 L927.0 717.08 L931.0 716.34 L935.0 715.61 L939.0 714.87 L943.0 714.13 L947.0 713.39 L951.0 712.66 L955.0 711.92 L959.0 711.18 L963.0 710.44 L967.0 709.70 L971.0 708.97 L975.0 708.23 L979.0 707.49 L983.0 706.75 L987.0 706.01 L991.0 705.28 L995.0 704.54 L999.0 703.80 L1003.0 703.06 L1007.0 702.32 L1011.0 701.58 L1015.0 700.84 L1019.0 700.11 L1023.0 699.37 L1027.0 698.63 L1031.0 697.89 L1035.0 697.15 L1039.0 696.41 L1043.0 695.67 L1047.0 694.93 L1051.0 694.19 L1055.0 693.45 L1059.0 692.71 L1063.0 691.97 L1067.0 691.23 L1071.0 690.49 L1075.0 689.75 L1079.0 689.01 L1083.0 688.27 L1087.0 687.53 L1091.0 686.79 L1095.0 686.05 L1099.0 685.31 L1103.0 684.57 L1107.0 683.83 L1111.0 683.09 L1115.0 682.35 L1119.0 681.61 L1123.0 680.86 L1127.0 680.12 L1131.0 679.38 L1135.0 678.64 L1139.0 677.90 L1143.0 677.15 L1147.0 676.41 L1151.0 675.67 L1155.0 674.93 L1159.0 674.18 L1163.0 673.44 L1167.0 672.70 L1171.0 671.96 L1175.0 671.21 L1179.0 670.47 L1183.0 669.72 L1187.0 668.98 L1191.0 668.24 L1195.0 667.49 L1199.0 666.75 L1203.0 666.00 L1207.0 665.26 L1211.0 664.51 L1215.0 663.77 L1219.0 663.02 L1223.0 662.28 L1227.0 661.53 L1231.0 660.79 L1235.0 660.04 L1239.0 659.30 L1243.0 658.55 L1247.0 657.80 L1251.0 657.06 L1255.0 656.31 L1259.0 655.56 L1263.0 654.81 L1267.0 654.07 L1271.0 653.32 L1275.0 652.57 L1279.0 651.82 L1283.0 651.07 L1287.0 650.33 L1291.0 649.58 L1295.0 648.83 L1299.0 648.08 L1303.0 647.33 L1307.0 646.58 L1311.0 645.83 L1315.0 645.08 L1319.0 644.33 L1323.0 643.58 L1327.0 642.83 L1331.0 642.08 L1335.0 641.33 L1339.0 640.57 L1343.0 639.82 L1347.0 639.07 L1351.0 638.32 L1355.0 637.57 L1359.0 636.81 L1363.0 636.06 L1367.0 635.31 L1371.0 634.55 L1375.0 633.80 L1379.0 633.05 L1383.0 632.29 L1387.0 631.54 L1391.0 630.78 L1395.0 630.03 L1399.0 629.27 L1403.0 628.52 L1407.0 627.76 L1411.0 627.00 L1415.0 626.25 L1419.0 625.49 L1423.0 624.73 L1427.0 623.98 L1431.0 623.22 L1435.0 622.46 L1439.0 621.70 L1443.0 620.94 L1447.0 620.18 L1451.0 619.43 L1455.0 618.67 L1459.0 617.91 L1463.0 617.15 L1467.0 616.39 L1471.0 615.63 L1475.0 614.86 L1479.0 614.10" fill="none" stroke="#4DBEEE" stroke-width="4" stroke-linejoin="round" shape-rendering="crispEdges"/>
<text x="205" y="518" text-anchor="middle" style="font-family:'Liberation Serif','Times New Roman',serif;font-weight:bold;font-size:54px" fill="#262626">30</text>
<text x="461" y="518" text-anchor="middle" style="font-family:'Liberation Serif','Times New Roman',serif;font-weight:bold;font-size:54px" fill="#262626">32</text>
<text x="717" y="518" text-anchor="middle" style="font-family:'Liberation Serif','Times New Roman',serif;font-weight:bold;font-size:54px" fill="#262626">34</text>
<text x="973" y="518" text-anchor="middle" style="font-family:'Liberation Serif','Times New Roman',serif;font-weight:bold;font-size:54px" fill="#262626">36</text>
<text x="1229" y="518" text-anchor="middle" style="font-family:'Liberation Serif','Times New Roman',serif;font-weight:bold;font-size:54px" fill="#262626">38</text>
<text x="1485" y="518" text-anchor="middle" style="font-family:'Liberation Serif','Times New Roman',serif;font-weight:bold;font-size:54px" fill="#262626">40</text>
<text x="204" y="1043" text-anchor="middle" style="font-family:'Liberation Serif','Times New Roman',serif;font-weight:bold;font-size:54px" fill="#262626">30</text>
<text x="459" y="1043" text-anchor="middle" style="font-family:'Liberation Serif','Times New Roman',serif;font-weight:bold;font-size:54px" fill="#262626">32</text>
<text x="714" y="1043" text-anchor="middle" style="font-family:'Liberation Serif','Times New Roman',serif;font-weight:bold;font-size:54px" fill="#262626">34</text>
<text x="969" y="1043" text-anchor="middle" style="font-family:'Liberation Serif','Times New Roman',serif;font-weight:bold;font-size:54px" fill="#262626">36</text>
<text x="1224" y="1043" text-anchor="middle" style="font-family:'Liberation Serif','Times New Roman',serif;font-weight:bold;font-size:54px" fill="#262626">38</text>
<text x="1479" y="1043" text-anchor="middle" style="font-family:'Liberation Serif','Times New Roman',serif;font-weight:bold;font-size:54px" fill="#262626">40</text>
<text x="185.8" y="85.7" text-anchor="end" style="font-family:'Liberation Serif','Times New Roman',serif;font-weight:bold;font-size:54px" fill="#262626">0.4</text>
<text x="185.8" y="181.7" text-anchor="end" style="font-family:'Liberation Serif','Times New Roman',serif;font-weight:bold;font-size:54px" fill="#262626">0.2</text>
<text x="185.8" y="277.7" text-anchor="end" style="font-family:'Liberation Serif','Times New Roman',serif;font-weight:bold;font-size:54px" fill="#262626">0</text>
<text x="185.8" y="373.7" text-anchor="end" style="font-family:'Liberation Serif','Times New Roman',serif;font-weight:bold;font-size:54px" fill="#262626">-0.2</text>
<text x="185.8" y="469.7" text-anchor="end" style="font-family:'Liberation Serif','Times New Roman',serif;font-weight:bold;font-size:54px" fill="#262626">-0.4</text>
<text x="183.8" y="596.7" text-anchor="end" style="font-family:'Liberation Serif','Times New Roman',serif;font-weight:bold;font-size:54px" fill="#262626">1</text>
<text x="183.8" y="696.5" text-anchor="end" style="font-family:'Liberation Serif','Times New Roman',serif;font-weight:bold;font-size:54px" fill="#262626">0.5</text>
<text x="183.8" y="796.2" text-anchor="end" style="font-family:'Liberation Serif','Times New Roman',serif;font-weight:bold;font-size:54px" fill="#262626">0</text>
<text x="183.8" y="896.0" text-anchor="end" style="font-family:'Liberation Serif','Times New Roman',serif;font-weight:bold;font-size:54px" fill="#262626">-0.5</text>
<text x="183.8" y="995.7" text-anchor="end" style="font-family:'Liberation Serif','Times New Roman',serif;font-weight:bold;font-size:54px" fill="#262626">-1</text>
<text transform="translate(80 257) rotate(-90)" text-anchor="middle" style="font-family:'Liberation Serif','Times New Roman',serif;font-weight:bold;font-size:59.4px" fill="#262626">resistance/pu</text>
<text transform="translate(78 775.5) rotate(-90)" text-anchor="middle" style="font-family:'Liberation Serif','Times New Roman',serif;font-weight:bold;font-size:59.4px" fill="#262626">impedance/pu</text>
<text x="842" y="1112.8" text-anchor="middle" style="font-family:'Liberation Serif','Times New Roman',serif;font-weight:bold;font-size:59.4px" fill="#262626">frequence/Hz</text>
<rect x="1131" y="83" width="330" height="179" fill="#fff" stroke="#262626" stroke-width="4" shape-rendering="crispEdges"/>
<path d="M1139 115.5H1231" stroke="#00FF00" stroke-width="4" shape-rendering="crispEdges"/>
<path d="M1139 172.7H1231" stroke="#FF0000" stroke-width="4" shape-rendering="crispEdges"/>
<path d="M1139 230.8H1231" stroke="#4DBEEE" stroke-width="4" shape-rendering="crispEdges"/>
<text x="1236.9" y="133.6" style="font-family:'Liberation Serif','Times New Roman',serif;font-weight:bold;font-size:48.6px" fill="#000">Ki1=0.007</text>
<text x="1236.9" y="191.2" style="font-family:'Liberation Serif','Times New Roman',serif;font-weight:bold;font-size:48.6px" fill="#000">Ki1=0.05</text>
<text x="1236.9" y="248.8" style="font-family:'Liberation Serif','Times New Roman',serif;font-weight:bold;font-size:48.6px" fill="#000">Ki1=0.1</text>
<rect x="1126" y="777" width="330" height="177" fill="#fff" stroke="#262626" stroke-width="4" shape-rendering="crispEdges"/>
<path d="M1134 809.1H1225" stroke="#00FF00" stroke-width="4" shape-rendering="crispEdges"/>
<path d="M1134 865.5H1225" stroke="#FF0000" stroke-width="4" shape-rendering="crispEdges"/>
<path d="M1134 922.7H1225" stroke="#4DBEEE" stroke-width="4" shape-rendering="crispEdges"/>
<text x="1231.4" y="826.4" style="font-family:'Liberation Serif','Times New Roman',serif;font-weight:bold;font-size:48.6px" fill="#000">Ki1=0.007</text>
<text x="1231.4" y="883.2" style="font-family:'Liberation Serif','Times New Roman',serif;font-weight:bold;font-size:48.6px" fill="#000">Ki1=0.05</text>
<text x="1231.4" y="940.0" style="font-family:'Liberation Serif','Times New Roman',serif;font-weight:bold;font-size:48.6px" fill="#000">Ki1=0.1</text>
<text x="472.7" y="955.5" style="font-family:'Liberation Serif','Times New Roman',serif;font-weight:normal;font-size:42.3px" fill="#4DBEEE">33.2Hz</text>
<text x="675.6" y="952.9" style="font-family:'Liberation Serif','Times New Roman',serif;font-weight:normal;font-size:42.3px" fill="#FF0000">33.5Hz</text>
<text x="783.9" y="907.8" style="font-family:'Liberation Serif','Times New Roman',serif;font-weight:normal;font-size:42.3px" fill="#00FF00">34.4Hz</text>
<g fill="#4DBEEE" shape-rendering="crispEdges"><rect x="628" y="67" width="4" height="19"/><rect x="628" y="96" width="4" height="19"/><rect x="628" y="125" width="4" height="19"/><rect x="628" y="154" width="4" height="19"/><rect x="628" y="183" width="4" height="7"/><rect x="627" y="190" width="4" height="12"/><rect x="627" y="212" width="4" height="18"/><rect x="627" y="241" width="4" height="18"/><rect x="627" y="270" width="4" height="18"/><rect x="627" y="298" width="4" height="19"/><rect x="627" y="327" width="4" height="19"/><rect x="627" y="356" width="4" height="19"/><rect x="627" y="385" width="4" height="19"/><rect x="627" y="414" width="4" height="19"/><rect x="627" y="443" width="4" height="19"/><rect x="627" y="472" width="4" height="19"/><rect x="627" y="501" width="4" height="19"/><rect x="627" y="530" width="4" height="18"/><rect x="627" y="558" width="4" height="19"/><rect x="627" y="587" width="4" height="19"/><rect x="627" y="616" width="4" height="19"/><rect x="627" y="645" width="4" height="19"/><rect x="627" y="674" width="4" height="6"/><rect x="626" y="680" width="4" height="13"/><rect x="626" y="703" width="4" height="19"/><rect x="626" y="732" width="4" height="19"/><rect x="626" y="761" width="4" height="19"/><rect x="626" y="790" width="4" height="18"/><rect x="626" y="819" width="4" height="18"/><rect x="626" y="848" width="4" height="18"/><rect x="626" y="876" width="4" height="19"/><rect x="626" y="905" width="4" height="19"/><rect x="626" y="934" width="4" height="19"/><rect x="626" y="963" width="4" height="14"/></g>
<g fill="#FF0000" shape-rendering="crispEdges"><rect x="657" y="64" width="4" height="19"/><rect x="657" y="93" width="4" height="19"/><rect x="657" y="122" width="4" height="8"/><rect x="656" y="130" width="4" height="11"/><rect x="656" y="151" width="4" height="19"/><rect x="656" y="180" width="4" height="18"/><rect x="656" y="208" width="4" height="19"/><rect x="656" y="237" width="4" height="19"/><rect x="656" y="266" width="4" height="19"/><rect x="656" y="295" width="4" height="19"/><rect x="656" y="324" width="4" height="19"/><rect x="656" y="353" width="4" height="19"/><rect x="656" y="382" width="4" height="19"/><rect x="656" y="411" width="4" height="19"/><rect x="656" y="440" width="4" height="18"/><rect x="656" y="469" width="4" height="18"/><rect x="656" y="498" width="4" height="18"/><rect x="656" y="526" width="4" height="19"/><rect x="656" y="555" width="4" height="19"/><rect x="656" y="584" width="4" height="19"/><rect x="656" y="613" width="4" height="7"/><rect x="655" y="620" width="4" height="12"/><rect x="655" y="642" width="4" height="19"/><rect x="655" y="671" width="4" height="19"/><rect x="655" y="700" width="4" height="19"/><rect x="655" y="729" width="4" height="18"/><rect x="655" y="758" width="4" height="18"/><rect x="655" y="786" width="4" height="19"/><rect x="655" y="815" width="4" height="19"/><rect x="655" y="844" width="4" height="19"/><rect x="655" y="873" width="4" height="19"/><rect x="655" y="902" width="4" height="19"/><rect x="655" y="931" width="4" height="19"/><rect x="655" y="960" width="4" height="14"/></g>
<g fill="#00FF00" shape-rendering="crispEdges"><rect x="761" y="65" width="4" height="19"/><rect x="761" y="94" width="4" height="19"/><rect x="761" y="123" width="4" height="19"/><rect x="761" y="152" width="4" height="18"/><rect x="761" y="181" width="4" height="18"/><rect x="761" y="210" width="4" height="18"/><rect x="761" y="238" width="4" height="19"/><rect x="761" y="267" width="4" height="19"/><rect x="761" y="296" width="4" height="19"/><rect x="761" y="325" width="4" height="19"/><rect x="761" y="354" width="4" height="19"/><rect x="761" y="383" width="4" height="19"/><rect x="761" y="412" width="4" height="19"/><rect x="761" y="441" width="4" height="8"/><rect x="760" y="449" width="4" height="11"/><rect x="760" y="470" width="4" height="18"/><rect x="760" y="498" width="4" height="19"/><rect x="760" y="527" width="4" height="19"/><rect x="760" y="556" width="4" height="19"/><rect x="760" y="585" width="4" height="19"/><rect x="760" y="614" width="4" height="19"/><rect x="760" y="643" width="4" height="19"/><rect x="760" y="672" width="4" height="19"/><rect x="760" y="701" width="4" height="19"/><rect x="760" y="730" width="4" height="18"/><rect x="760" y="759" width="4" height="18"/><rect x="760" y="788" width="4" height="18"/><rect x="760" y="816" width="4" height="19"/><rect x="760" y="845" width="4" height="19"/><rect x="760" y="874" width="4" height="19"/><rect x="760" y="903" width="4" height="19"/><rect x="760" y="932" width="4" height="19"/><rect x="760" y="961" width="4" height="7"/><rect x="759" y="968" width="4" height="6"/></g>
</svg>
</body></html>
